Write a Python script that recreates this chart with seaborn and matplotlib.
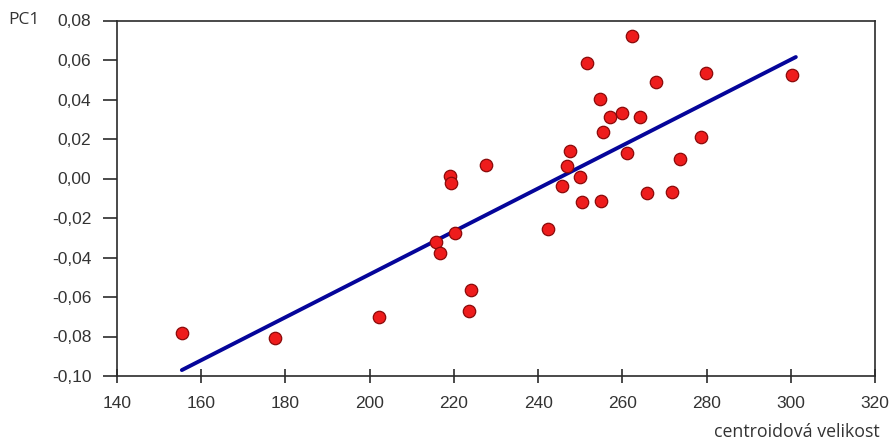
import matplotlib
matplotlib.use("Agg")
import matplotlib.pyplot as plt
from matplotlib.ticker import FixedLocator, FuncFormatter
import seaborn as sns
import pandas as pd

# ---- data ----
centroid_size = [155.5, 177.5, 202.1, 215.8, 216.7, 219.0, 219.4, 220.3, 223.7, 224.0,
                 227.6, 242.3, 245.6, 246.8, 247.6, 250.0, 250.5, 251.7, 254.6, 254.9,
                 255.3, 257.1, 259.9, 261.0, 262.2, 264.2, 265.8, 267.9, 271.7, 273.7,
                 278.6, 279.8, 300.4]
pc1 = [-0.0781, -0.0809, -0.0703, -0.0320, -0.0376, 0.0012, -0.0022, -0.0278, -0.0671, -0.0565,
       0.0068, -0.0257, -0.0036, 0.0063, 0.0139, 0.0009, -0.0117, 0.0583, 0.0401, -0.0112,
       0.0234, 0.0313, 0.0333, 0.0128, 0.0722, 0.0313, -0.0075, 0.0487, -0.0067, 0.0097,
       0.0209, 0.0533, 0.0524]
fit_x = [155.4, 301.2]
fit_y = [-0.0970, 0.0615]

x_ticks = [140, 160, 180, 200, 220, 240, 260, 280, 300, 320]
y_ticks = [-0.10, -0.08, -0.06, -0.04, -0.02, 0.00, 0.02, 0.04, 0.06, 0.08]
x_label = "centroidová velikost"
y_label = "PC1"

points = pd.DataFrame({"x": centroid_size, "y": pc1})
fit = pd.DataFrame({"x": fit_x, "y": fit_y})

sns.set_style("white")
plt.rcParams["font.family"] = ["Liberation Sans", "DejaVu Sans"]

fig = plt.figure(figsize=(8.89, 4.43), dpi=100)
ax = fig.add_axes([117 / 889, 1 - 376 / 443, (875 - 117) / 889, (376 - 20.5) / 443])

sns.lineplot(data=fit, x="x", y="y", ax=ax, color="#05059a", linewidth=2.8, zorder=2)
sns.scatterplot(data=points, x="x", y="y", ax=ax, color="#ee1c1c", edgecolor="#8a0a0a",
                linewidth=0.9, s=80, zorder=3)

ax.set_xlim(140, 320)
ax.set_ylim(-0.10, 0.08)
ax.xaxis.set_major_locator(FixedLocator(x_ticks))
ax.yaxis.set_major_locator(FixedLocator(y_ticks))
ax.xaxis.set_major_formatter(FuncFormatter(lambda v, p: f"{v:.0f}"))
ax.yaxis.set_major_formatter(FuncFormatter(lambda v, p: f"{v:.2f}".replace(".", ",").replace("-0,00", "0,00")))

ax.set_xlabel("")
ax.set_ylabel("")
for s in ax.spines.values():
    s.set_visible(True)
    s.set_color("#2b2b2b")
    s.set_linewidth(1.2)

ax.tick_params(axis="x", direction="inout", length=9.5, width=1.2, color="#2b2b2b",
               pad=9.5, labelsize=12.5, labelcolor="#333333")
ax.tick_params(axis="y", direction="out", length=10, width=1.2, color="#2b2b2b",
               pad=8.5, labelsize=12.5, labelcolor="#333333")
ax.tick_params(left=True, bottom=True)

fig.text(880 / 889, 1 - 432 / 443, x_label, ha="right", va="center", fontsize=12.8,
         family=["Open Sans", "DejaVu Sans"], color="#333333")
fig.text(40 / 889, 1 - 20.5 / 443, y_label, ha="right", va="center", fontsize=12.5,
         family=["Open Sans", "DejaVu Sans"], color="#333333")

fig.savefig("out.png", dpi=100)
